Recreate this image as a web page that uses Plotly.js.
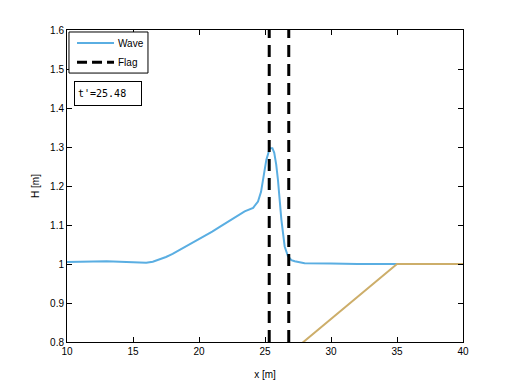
<!DOCTYPE html>
<html>
<head>
<meta charset="utf-8">
<script src="https://cdn.plot.ly/plotly-3.0.1.min.js"></script>
<style>
  html, body { margin: 0; padding: 0; background: #fff; }
  #chart { width: 512px; height: 384px; }
</style>
</head>
<body>
<div id="chart"></div>
<script>
// wave surface
var waveX = [10, 11, 12, 13, 14, 15, 15.5, 16, 16.5, 17, 17.5, 18, 18.6, 19.2, 19.7, 20.4, 21, 21.6, 22.2, 22.8,
  23.46, 24.1, 24.47, 24.7, 24.85, 25.1, 25.36, 25.56, 25.7, 25.85, 25.98, 26.1, 26.24, 26.49, 26.74, 27, 27.25,
  28, 29, 30, 32, 35, 40];
var waveH = [1.005, 1.006, 1.006, 1.007, 1.006, 1.004, 1.003, 1.003, 1.006, 1.011, 1.018, 1.026, 1.037, 1.048, 1.058,
  1.07, 1.083, 1.096, 1.109, 1.122, 1.135, 1.144, 1.16, 1.185, 1.216, 1.267, 1.297, 1.297, 1.285, 1.255, 1.216, 1.17,
  1.114, 1.045, 1.02, 1.01, 1.007, 1.002, 1.001, 1.001, 1.0, 1.0, 1.0];

// sloping bed
var bedX = [25, 35, 40];
var bedH = [0.718, 1.0, 1.0];

// flag positions
var flagX = [25.32, 26.8];
var xRange = [10, 40];
var yRange = [0.8, 1.6];
var legendNames = ['Wave', 'Flag'];
var timeLabel = "t'=25.48";

var waveColor = 'rgb(90,174,226)';
var flagDash = '12px,7px';

var fx = [], fy = [];
flagX.forEach(function (x, i) {
  if (i > 0) { fx.push(null); fy.push(null); }
  fx.push(x, x);
  fy.push(yRange[0], yRange[1]);
});

var font = { family: 'Liberation Sans, Arial, sans-serif', size: 10, color: '#000' };

var data = [
  { type: 'scatter', mode: 'lines', name: legendNames[0], x: waveX, y: waveH, showlegend: false,
    line: { color: waveColor, width: 2 } },
  { type: 'scatter', mode: 'lines', name: legendNames[1], x: fx, y: fy, showlegend: false,
    line: { color: '#000', width: 3, dash: flagDash } },
  { type: 'scatter', mode: 'lines', name: 'Bed', x: bedX, y: bedH, showlegend: false,
    line: { color: 'rgb(205,174,106)', width: 2 } }
];

var axisBase = {
  showline: true, mirror: 'ticks', linecolor: '#000', linewidth: 1,
  ticks: 'inside', ticklen: 5, tickcolor: '#000', showgrid: false, zeroline: false,
  tickfont: font
};

// matlab style legend box, drawn in paper coords
var legendY = [0.958, 0.897];
var shapes = [{
  type: 'rect', xref: 'paper', yref: 'paper', x0: 0.005, x1: 0.2045, y0: 0.862, y1: 0.9936,
  line: { color: '#000', width: 1 }, fillcolor: '#fff', layer: 'above'
}, {
  type: 'line', xref: 'paper', yref: 'paper', x0: 0.0253, x1: 0.1187, y0: legendY[0], y1: legendY[0],
  line: { color: waveColor, width: 2 }, layer: 'above'
}, {
  type: 'line', xref: 'paper', yref: 'paper', x0: 0.0253, x1: 0.1187, y0: legendY[1], y1: legendY[1],
  line: { color: '#000', width: 3, dash: '10px,5px' }, layer: 'above'
}];

var annotations = legendNames.map(function (name, i) {
  return {
    xref: 'paper', yref: 'paper', x: 0.124, y: legendY[i], xanchor: 'left', yanchor: 'middle',
    text: name, showarrow: false, font: font
  };
});
annotations.push({
  xref: 'paper', yref: 'paper', x: 0.018, y: 0.837, xanchor: 'left', yanchor: 'top',
  text: timeLabel, showarrow: false, align: 'left',
  font: { family: 'DejaVu Sans Mono, monospace', size: 10, color: '#000' },
  bordercolor: '#000', borderwidth: 1, borderpad: 3, bgcolor: '#fff',
  width: 60, height: 17
});

var layout = {
  width: 512, height: 384,
  margin: { l: 67, r: 49, t: 30, b: 42 },
  paper_bgcolor: '#fff', plot_bgcolor: '#fff',
  font: font,
  xaxis: Object.assign({}, axisBase, {
    range: xRange, dtick: 5,
    title: { text: 'x [m]', font: font, standoff: 14 }
  }),
  yaxis: Object.assign({}, axisBase, {
    range: yRange, dtick: 0.1,
    title: { text: 'H [m]', font: font, standoff: 8 }
  }),
  showlegend: false,
  shapes: shapes,
  annotations: annotations
};

Plotly.newPlot('chart', data, layout, { staticPlot: true });
</script>
</body>
</html>
